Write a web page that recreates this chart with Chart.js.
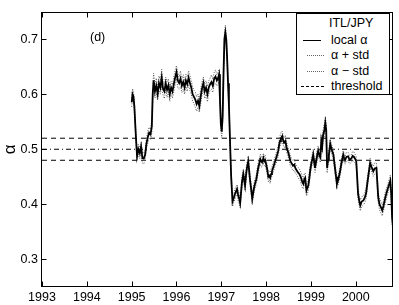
<!DOCTYPE html>
<html lang="en">
<head>
  <meta charset="UTF-8" />
  <title>ITL/JPY local alpha</title>
  <script src="https://cdn.jsdelivr.net/npm/chart.js"></script>
  <style>
    body { margin: 0; background: #fff; }
    #wrap { position: relative; width: 399px; height: 305px; font-family: "Liberation Sans", Arial, sans-serif; }
    #panel { position: absolute; left: 90px; top: 30px; font-size: 12.5px; }
    #legend { position: absolute; left: 296px; top: 13px; width: 92px; height: 80px; border: 1px solid #000; background: #fff; font-size: 12.5px; }
    #legend .row { position: absolute; left: 0; width: 92px; height: 14px; line-height: 14px; }
    #legend .row span { position: absolute; left: 34px; white-space: nowrap; }
    #legend .row i { position: absolute; top: 7px; height: 0; }
  </style>
</head>
<body>
  <div id="wrap">
    <canvas id="chartCanvas" width="399" height="305"></canvas>
    <div id="panel">(d)</div>
    <div id="legend">
      <div class="row" style="top:2px"><span style="left:32px">ITL/JPY</span></div>
      <div class="row" style="top:19px"><i style="left:6px;width:18px;border-top:1.5px solid #000"></i><span>local α</span></div>
      <div class="row" style="top:34px"><i style="left:10px;width:17px;border-top:1px dotted #666"></i><span>α + std</span></div>
      <div class="row" style="top:50px"><i style="left:10px;width:17px;border-top:1px dotted #666"></i><span>α − std</span></div>
      <div class="row" style="top:65px"><i style="left:4px;width:23px;border-top:1px dashed #000"></i><span>threshold</span></div>
    </div>
  </div>

  <script>
    // local alpha
    const years = [
      1995.00, 1995.02, 1995.04, 1995.06, 1995.09, 1995.12, 1995.15, 1995.18, 1995.21, 1995.24,
      1995.27, 1995.30, 1995.33, 1995.36, 1995.39, 1995.42, 1995.45, 1995.47, 1995.49, 1995.52,
      1995.55, 1995.58, 1995.61, 1995.64, 1995.67, 1995.70, 1995.73, 1995.76, 1995.79, 1995.82,
      1995.85, 1995.88, 1995.91, 1995.94, 1995.97,
      1996.00, 1996.03, 1996.06, 1996.09, 1996.12, 1996.15, 1996.18, 1996.21, 1996.24, 1996.27,
      1996.30, 1996.33, 1996.36, 1996.39, 1996.42, 1996.45, 1996.48, 1996.51, 1996.54, 1996.57,
      1996.60, 1996.63, 1996.66, 1996.69, 1996.72, 1996.75, 1996.78, 1996.81, 1996.84, 1996.87,
      1996.90, 1996.93, 1996.95, 1996.97, 1996.99,
      1997.01, 1997.03, 1997.05, 1997.07, 1997.09, 1997.11, 1997.13, 1997.15, 1997.17, 1997.20,
      1997.22, 1997.25, 1997.28, 1997.31, 1997.35, 1997.38, 1997.40, 1997.42, 1997.46, 1997.49,
      1997.51, 1997.53, 1997.56, 1997.58, 1997.60, 1997.62, 1997.64, 1997.67, 1997.69, 1997.73,
      1997.76, 1997.78, 1997.80, 1997.82, 1997.85, 1997.87, 1997.89, 1997.91, 1997.94, 1997.96,
      1997.98,
      1998.02, 1998.05, 1998.07, 1998.09, 1998.11, 1998.13, 1998.17, 1998.20, 1998.24, 1998.27,
      1998.29, 1998.31, 1998.33, 1998.36, 1998.38, 1998.40, 1998.43, 1998.45, 1998.47, 1998.49,
      1998.52, 1998.54, 1998.57, 1998.60, 1998.63, 1998.65, 1998.68, 1998.71, 1998.74, 1998.76,
      1998.79, 1998.81, 1998.83, 1998.85, 1998.87, 1998.90, 1998.92, 1998.94, 1998.96, 1998.98,
      1999.01, 1999.03, 1999.05, 1999.07, 1999.09, 1999.12, 1999.14, 1999.16, 1999.19, 1999.21,
      1999.23, 1999.25, 1999.27, 1999.30, 1999.32, 1999.34, 1999.36, 1999.38, 1999.40, 1999.43,
      1999.46, 1999.50, 1999.53, 1999.56, 1999.58, 1999.61, 1999.65, 1999.68, 1999.72, 1999.74,
      1999.76, 1999.79, 1999.83, 1999.86, 1999.90, 1999.93, 1999.96, 1999.99,
      2000.01, 2000.03, 2000.05, 2000.08, 2000.10, 2000.13, 2000.17, 2000.20, 2000.23, 2000.26,
      2000.29, 2000.32, 2000.35, 2000.39, 2000.42, 2000.46, 2000.48, 2000.50, 2000.53, 2000.56,
      2000.59, 2000.62, 2000.66, 2000.69, 2000.72, 2000.75, 2000.77, 2000.79, 2000.81, 2000.83
    ];
    const alpha = [
      0.585, 0.600, 0.596, 0.578, 0.530, 0.487, 0.500, 0.493, 0.505, 0.484,
      0.483, 0.490, 0.510, 0.522, 0.530, 0.527, 0.542, 0.600, 0.625, 0.605,
      0.615, 0.600, 0.620, 0.612, 0.630, 0.610, 0.605, 0.620, 0.608, 0.616,
      0.600, 0.612, 0.605, 0.618, 0.630,
      0.640, 0.625, 0.620, 0.628, 0.615, 0.622, 0.612, 0.625, 0.618, 0.630,
      0.620, 0.612, 0.600, 0.595, 0.590, 0.582, 0.588, 0.578, 0.596, 0.610,
      0.620, 0.605, 0.612, 0.600, 0.612, 0.618, 0.622, 0.615, 0.628, 0.632,
      0.625, 0.630, 0.636, 0.590, 0.545,
      0.532, 0.560, 0.640, 0.700, 0.712, 0.700, 0.665, 0.620, 0.580, 0.500,
      0.450, 0.405, 0.412, 0.420, 0.428, 0.415, 0.410, 0.402, 0.440, 0.455,
      0.445, 0.434, 0.460, 0.470, 0.478, 0.462, 0.445, 0.425, 0.410, 0.430,
      0.440, 0.445, 0.455, 0.465, 0.475, 0.482, 0.478, 0.476, 0.484, 0.478,
      0.480,
      0.465, 0.450, 0.452, 0.448, 0.455, 0.460, 0.470, 0.478, 0.488, 0.497,
      0.508, 0.515, 0.520, 0.524, 0.516, 0.512, 0.515, 0.505, 0.500, 0.495,
      0.486, 0.479, 0.474, 0.470, 0.472, 0.466, 0.462, 0.458, 0.455, 0.452,
      0.445, 0.440, 0.437, 0.445, 0.448, 0.425, 0.430, 0.434, 0.445, 0.460,
      0.475, 0.482, 0.490, 0.478, 0.466, 0.480, 0.490, 0.497, 0.488, 0.485,
      0.515, 0.505, 0.525, 0.535, 0.548, 0.535, 0.466, 0.480, 0.490, 0.510,
      0.500, 0.490, 0.470, 0.450, 0.437, 0.445, 0.460, 0.475, 0.490, 0.484,
      0.480, 0.486, 0.487, 0.481, 0.483, 0.488, 0.486, 0.482,
      0.478, 0.450, 0.420, 0.405, 0.398, 0.405, 0.407, 0.412, 0.420, 0.440,
      0.458, 0.475, 0.468, 0.460, 0.465, 0.466, 0.440, 0.413, 0.400, 0.395,
      0.389, 0.398, 0.413, 0.422, 0.430, 0.438, 0.443, 0.420, 0.376, 0.360
    ];
    const stdDev = [
      0.008, 0.010, 0.009, 0.008, 0.007, 0.008, 0.009, 0.010, 0.008, 0.009,
      0.010, 0.008, 0.009, 0.011, 0.010, 0.009, 0.012, 0.010, 0.013, 0.012,
      0.014, 0.011, 0.013, 0.012, 0.015, 0.012, 0.013, 0.011, 0.014, 0.012,
      0.013, 0.011, 0.012, 0.014, 0.013,
      0.012, 0.013, 0.011, 0.014, 0.012, 0.013, 0.012, 0.011, 0.013, 0.012,
      0.014, 0.012, 0.013, 0.012, 0.014, 0.013, 0.012, 0.011, 0.013, 0.012,
      0.011, 0.013, 0.012, 0.014, 0.012, 0.011, 0.013, 0.012, 0.011, 0.012,
      0.010, 0.011, 0.009, 0.010, 0.011,
      0.012, 0.010, 0.011, 0.012, 0.013, 0.011, 0.010, 0.009, 0.010, 0.009,
      0.008, 0.009, 0.008, 0.009, 0.008, 0.010, 0.009, 0.008, 0.009, 0.008,
      0.010, 0.009, 0.008, 0.009, 0.010, 0.009, 0.008, 0.009, 0.010, 0.008,
      0.009, 0.008, 0.010, 0.009, 0.008, 0.009, 0.010, 0.008, 0.009, 0.008,
      0.009,
      0.008, 0.009, 0.008, 0.010, 0.009, 0.008, 0.009, 0.008, 0.010, 0.009,
      0.008, 0.009, 0.010, 0.009, 0.008, 0.009, 0.010, 0.008, 0.009, 0.008,
      0.009, 0.010, 0.008, 0.009, 0.010, 0.009, 0.008, 0.009, 0.010, 0.009,
      0.011, 0.010, 0.009, 0.010, 0.009, 0.010, 0.011, 0.009, 0.010, 0.009,
      0.008, 0.009, 0.010, 0.009, 0.008, 0.009, 0.010, 0.009, 0.008, 0.009,
      0.010, 0.011, 0.010, 0.012, 0.011, 0.010, 0.009, 0.010, 0.009, 0.008,
      0.009, 0.008, 0.009, 0.010, 0.009, 0.008, 0.009, 0.008, 0.007, 0.008,
      0.007, 0.008, 0.007, 0.008, 0.007, 0.008, 0.009, 0.008,
      0.008, 0.009, 0.010, 0.009, 0.010, 0.009, 0.008, 0.009, 0.010, 0.009,
      0.008, 0.009, 0.008, 0.009, 0.010, 0.009, 0.010, 0.009, 0.010, 0.011,
      0.010, 0.009, 0.010, 0.009, 0.008, 0.009, 0.010, 0.011, 0.012, 0.013
    ];
    const thresholds = [0.52, 0.5, 0.48];
    const yearTicks = [1993, 1994, 1995, 1996, 1997, 1998, 1999, 2000];
    const alphaTicks = [0.3, 0.4, 0.5, 0.6, 0.7];
    const xMin = 1993, xMax = 2000.83;
    const yMin = 0.25, yMax = 0.75;

    const pts = vals => years.map((x, i) => ({ x: x, y: vals[i] }));
    const flat = v => [{ x: xMin, y: v }, { x: xMax, y: v }];

    const FONT = "'Liberation Sans', Arial, sans-serif";

    // box round the plot with inward ticks on all four sides
    const frame = {
      id: 'frame',
      afterDatasetsDraw(chart) {
        const { ctx, chartArea: a, scales: { x, y } } = chart;
        const L = Math.round(a.left) - 0.5, R = Math.round(a.right) - 0.5;
        const T = Math.round(a.top) + 0.5, B = Math.round(a.bottom) - 0.5;
        ctx.save();
        ctx.strokeStyle = '#000';
        ctx.lineWidth = 1;
        ctx.beginPath();
        yearTicks.forEach(v => {
          const px = Math.round(x.getPixelForValue(v)) + 0.5;
          ctx.moveTo(px, B); ctx.lineTo(px, B - 5);
          ctx.moveTo(px, T); ctx.lineTo(px, T + 5);
        });
        alphaTicks.forEach(v => {
          const py = Math.round(y.getPixelForValue(v)) + 0.5;
          ctx.moveTo(L, py); ctx.lineTo(L + 5, py);
          ctx.moveTo(R, py); ctx.lineTo(R - 5, py);
        });
        ctx.stroke();
        ctx.strokeRect(L, T, R - L, B - T);
        ctx.restore();
      }
    };

    const ctx = document.getElementById("chartCanvas").getContext("2d");
    new Chart(ctx, {
      type: 'line',
      data: {
        datasets: [
          { label: 'local α', data: pts(alpha), borderColor: '#000', borderWidth: 1.8 },
          { label: 'α + std', data: pts(alpha.map((v, i) => v + stdDev[i])), borderColor: '#555', borderWidth: 1, borderDash: [1, 1.5] },
          { label: 'α − std', data: pts(alpha.map((v, i) => v - stdDev[i])), borderColor: '#555', borderWidth: 1, borderDash: [1, 1.5] },
          { label: 'threshold', data: flat(thresholds[0]), borderColor: '#000', borderWidth: 1, borderDash: [5, 4] },
          { label: 'alpha = 0.5', data: flat(thresholds[1]), borderColor: '#000', borderWidth: 1, borderDash: [5, 3, 1, 3] },
          { label: 'threshold low', data: flat(thresholds[2]), borderColor: '#000', borderWidth: 1, borderDash: [5, 4] }
        ]
      },
      options: {
        responsive: false,
        animation: false,
        events: [],
        elements: { point: { radius: 0 }, line: { tension: 0 } },
        layout: { padding: { left: 0, right: 6, top: 10, bottom: 0 } },
        plugins: { legend: { display: false }, tooltip: { enabled: false } },
        scales: {
          x: {
            type: 'linear',
            min: xMin,
            max: xMax,
            grid: { display: false, drawTicks: false },
            border: { display: false },
            afterBuildTicks: s => { s.ticks = yearTicks.map(v => ({ value: v })); },
            afterFit: s => { s.height = 18; },
            ticks: { padding: 3, color: '#000', font: { family: FONT, size: 12.5 }, maxRotation: 0, callback: v => String(v) }
          },
          y: {
            min: yMin,
            max: yMax,
            grid: { display: false, drawTicks: false },
            border: { display: false },
            afterBuildTicks: s => { s.ticks = alphaTicks.map(v => ({ value: v })); },
            afterFit: s => { s.width = 42; },
            title: { display: true, text: 'α', color: '#000', font: { family: FONT, size: 17 }, padding: 0 },
            ticks: { padding: 4, color: '#000', font: { family: FONT, size: 12.5 }, callback: v => v.toFixed(1) }
          }
        }
      },
      plugins: [frame]
    });
  </script>
</body>
</html>
